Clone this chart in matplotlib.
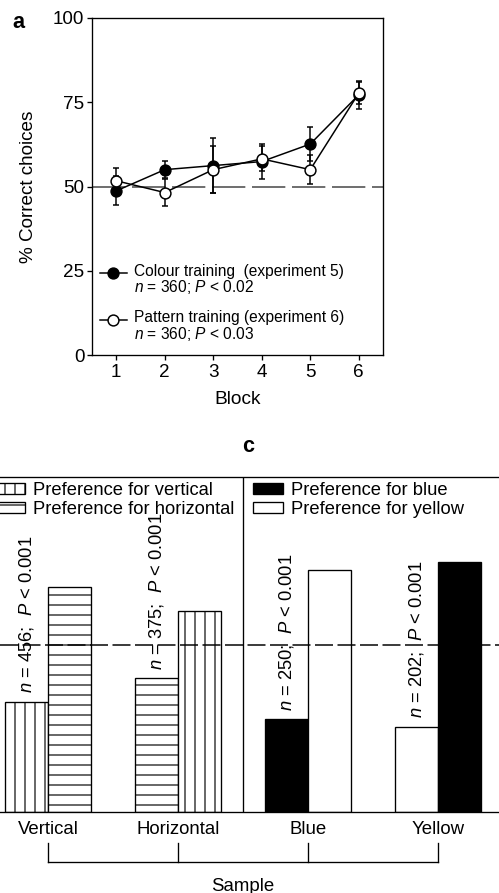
import numpy as np
import matplotlib
matplotlib.use('Agg')
import matplotlib.pyplot as plt
import matplotlib.transforms as mtransforms
from matplotlib.lines import Line2D
from matplotlib.patches import Patch
from matplotlib.legend_handler import HandlerLine2D

plt.rcParams['font.family'] = ['Liberation Sans', 'DejaVu Sans']
plt.rcParams['mathtext.fontset'] = 'custom'
plt.rcParams['mathtext.rm'] = 'Liberation Sans'
plt.rcParams['mathtext.it'] = 'Liberation Sans:italic'
plt.rcParams['hatch.linewidth'] = 0.7
plt.rcParams['axes.linewidth'] = 0.8

# === DATOS PANEL a ===
bloques = [1, 2, 3, 4, 5, 6]
color_media = [48.7, 55.0, 56.2, 57.4, 62.6, 77.2]
color_err = [4.3, 2.5, 8.2, 5.3, 5.0, 4.1]
patron_media = [51.7, 48.2, 55.0, 58.2, 55.0, 77.7]
patron_err = [3.9, 3.9, 7.0, 3.7, 4.4, 3.2]
etiqueta_color = 'Colour training  (experiment 5)\n$n$ = 360; $P$ < 0.02'
etiqueta_patron = 'Pattern training (experiment 6)\n$n$ = 360; $P$ < 0.03'

# === DATOS PANEL c ===
muestras = ['Vertical', 'Horizontal', 'Blue', 'Yellow']
pref_muestra = [33.0, 40.0, 27.8, 25.5]   # preferencia por el estimulo de la muestra
pref_otro = [67.0, 60.0, 72.2, 74.5]      # preferencia por el estimulo alternativo
n_valores = [456, 375, 250, 202]
trama_muestra = ['||', '--', '', '']
color_muestra = ['white', 'white', 'black', 'white']
trama_otro = ['--', '||', '', '']
color_otro = ['white', 'white', 'white', 'black']

DPI = 120
fig = plt.figure(figsize=(499 / DPI, 893 / DPI), dpi=DPI)


class PrimeraLinea(HandlerLine2D):
    # coloca el marcador a la altura de la primera linea del texto
    def create_artists(self, legend, orig_handle, xdescent, ydescent,
                       width, height, fontsize, trans):
        arts = super().create_artists(legend, orig_handle, xdescent, ydescent,
                                      width, height, fontsize, trans)
        for a in arts:
            a.set_ydata(np.asarray(a.get_ydata()) + 0.48 * fontsize)
        return arts


# === PANEL a ===
ax1 = fig.add_axes([92 / 499, 538 / 893, 291 / 499, 337 / 893])
ax1.axhline(50, color='#555555', lw=1.0, dashes=(20, 4), zorder=1)
ax1.errorbar(bloques, color_media, yerr=color_err, fmt='none', ecolor='black',
             elinewidth=0.9, capsize=1.6, capthick=0.9, zorder=2)
ax1.errorbar(bloques, patron_media, yerr=patron_err, fmt='none', ecolor='black',
             elinewidth=0.9, capsize=1.6, capthick=0.9, zorder=2)
l1, = ax1.plot(bloques, color_media, '-o', color='black', lw=0.9, ms=6.5,
               mfc='black', mec='black', mew=0.9, zorder=3, label=etiqueta_color)
l2, = ax1.plot(bloques, patron_media, '-o', color='black', lw=0.9, ms=6.5,
               mfc='white', mec='black', mew=0.9, zorder=4, label=etiqueta_patron)
ax1.set_xlim(0.5, 6.5)
ax1.set_ylim(0, 100)
ax1.set_xticks(bloques)
ax1.set_yticks([0, 25, 50, 75, 100])
ax1.tick_params(axis='y', length=3, width=0.8, pad=1.5, labelsize=11.3)
ax1.tick_params(axis='x', length=3, width=0.8, pad=2.5, labelsize=11.3)
ax1.set_xlabel('Block', fontsize=11.5, labelpad=6)
ax1.set_ylabel('% Correct choices', fontsize=11.3, labelpad=9.5)
leg1 = ax1.legend(handles=[l1, l2], handler_map={Line2D: PrimeraLinea()},
                  loc='upper left', bbox_to_anchor=(0.027, 0.27), frameon=False,
                  fontsize=9.3, borderpad=0, borderaxespad=0, handlelength=1.75,
                  handletextpad=0.45, labelspacing=0.9)
for t in leg1.get_texts():
    t.set_linespacing(0.95)

fig.text(0.036, 0.975, 'a', fontsize=13, fontweight='bold', ha='center', va='center')

# === PANEL c ===
ax2 = fig.add_axes([0, 1 - 812.3 / 893, 1, 335.6 / 893])
x = np.arange(len(muestras))
ancho = 0.333
for i in range(len(muestras)):
    ax2.bar(x[i] - ancho / 2, pref_muestra[i], width=ancho, color=color_muestra[i],
            edgecolor='black', linewidth=0.8, hatch=trama_muestra[i], zorder=2)
    ax2.bar(x[i] + ancho / 2, pref_otro[i], width=ancho, color=color_otro[i],
            edgecolor='black', linewidth=0.8, hatch=trama_otro[i], zorder=2)
    ax2.text(x[i] - ancho / 2, pref_muestra[i] + 2.5,
             f'$n$ = {n_valores[i]};  $P$ < 0.001', rotation=90,
             ha='center', va='bottom', fontsize=11, zorder=4)

ax2.axhline(50, color='black', lw=0.9, dashes=(12, 3), zorder=3)
ax2.axvline(1.5, color='black', lw=0.8, zorder=3)
ax2.set_xlim(-0.369, 3.469)
ax2.set_ylim(0, 100)
ax2.spines['left'].set_visible(False)
ax2.spines['right'].set_visible(False)
ax2.set_yticks([])
ax2.set_xticks(x)
ax2.set_xticklabels(muestras)
ax2.tick_params(axis='x', length=0, pad=5.5, labelsize=11.2)

# llave "Sample"
tr = mtransforms.blended_transform_factory(ax2.transData, ax2.transAxes)
y_arriba, y_abajo = -0.091, -0.147
for xi in x:
    ax2.plot([xi, xi], [y_arriba, y_abajo], color='black', lw=0.8,
             transform=tr, clip_on=False)
ax2.plot([x[0], x[-1]], [y_abajo, y_abajo], color='black', lw=0.8,
         transform=tr, clip_on=False)
ax2.text(1.5, -0.22, 'Sample', transform=tr, ha='center', va='center', fontsize=11.2)

# leyendas
h_patron = [Patch(facecolor='white', edgecolor='black', hatch='||', lw=0.8,
                  label='Preference for vertical'),
            Patch(facecolor='white', edgecolor='black', hatch='--', lw=0.8,
                  label='Preference for horizontal')]
h_color = [Patch(facecolor='black', edgecolor='black', lw=0.8,
                 label='Preference for blue'),
           Patch(facecolor='white', edgecolor='black', lw=0.8,
                 label='Preference for yellow')]
opciones = dict(loc='upper left', frameon=False, fontsize=11, borderpad=0,
                borderaxespad=0, handlelength=1.64, handleheight=0.55,
                handletextpad=0.45, labelspacing=0.12)
leg_a = ax2.legend(handles=h_patron, bbox_to_anchor=(-0.01, 0.985), **opciones)
ax2.add_artist(leg_a)
ax2.legend(handles=h_color, bbox_to_anchor=(253 / 499, 0.985), **opciones)

fig.text(0.497, 1 - 447 / 893, 'c', fontsize=13, fontweight='bold',
         ha='center', va='center')

fig.savefig('out.png', dpi=DPI)
